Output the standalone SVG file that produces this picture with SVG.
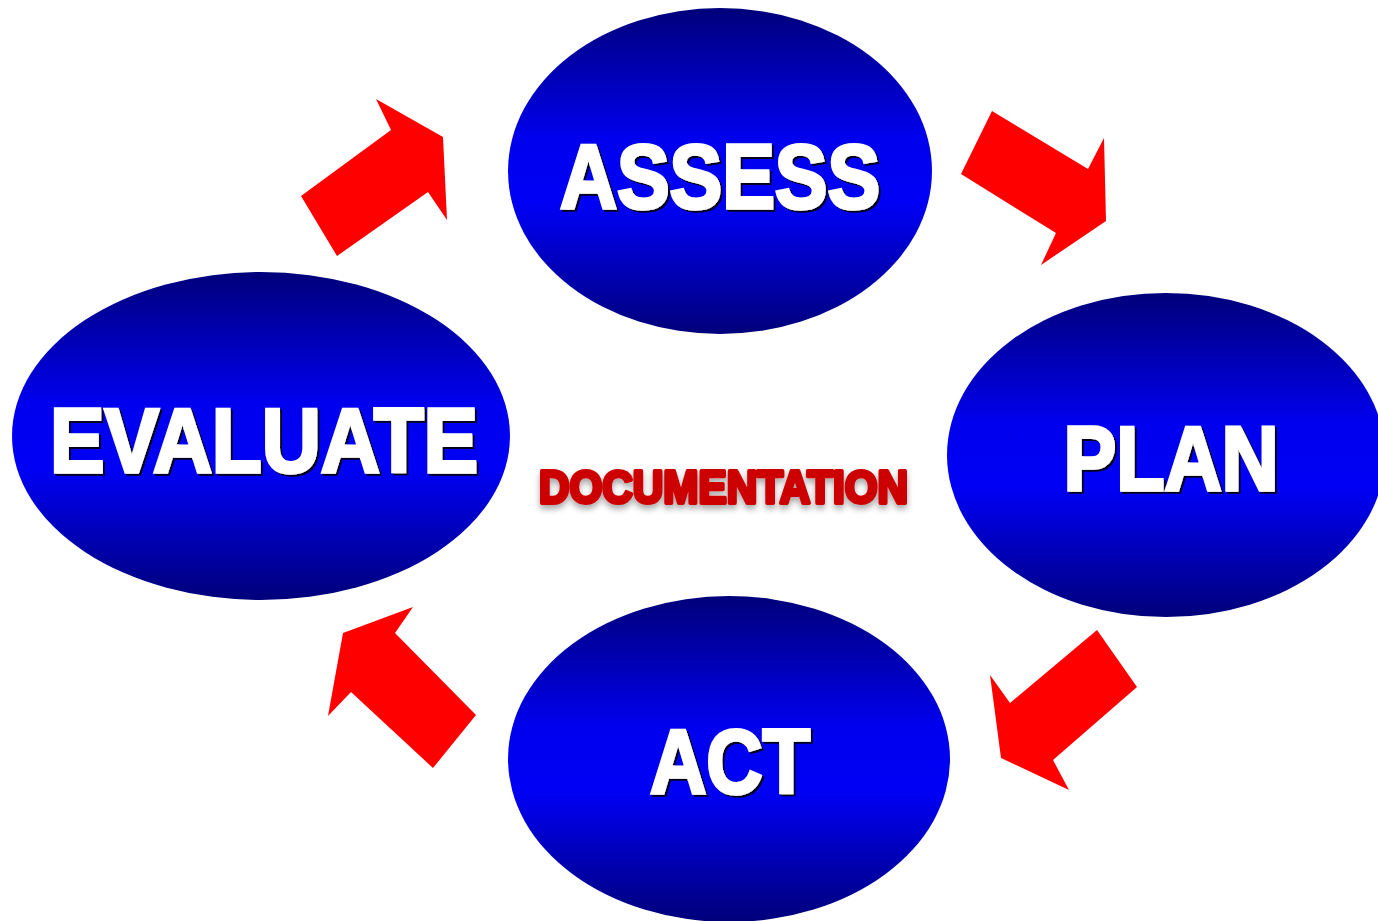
<svg xmlns="http://www.w3.org/2000/svg" width="1378" height="921" viewBox="0 0 1378 921">
<defs>
<linearGradient id="blueGrad" x1="0" y1="0" x2="0" y2="1">
<stop offset="0" stop-color="#00007a"/>
<stop offset="0.4" stop-color="#0000ee"/>
<stop offset="0.6" stop-color="#0000f5"/>
<stop offset="1" stop-color="#00007a"/>
</linearGradient>
<filter id="txtShadow" x="-5%" y="-10%" width="110%" height="130%">
<feDropShadow dx="2" dy="2" stdDeviation="0.6" flood-color="#000020" flood-opacity="1"/>
</filter>
<filter id="docShadow" x="-5%" y="-20%" width="110%" height="160%">
<feDropShadow dx="0" dy="4" stdDeviation="3" flood-color="#000000" flood-opacity="0.35"/>
</filter>
</defs>
<style>
.node ellipse { fill: url(#blueGrad); }
.label { font-family: "Liberation Sans", Arial, sans-serif; font-weight: bold; fill: #ffffff; stroke: #ffffff; stroke-width: 3.5; stroke-linejoin: miter; text-anchor: middle; filter: url(#txtShadow); }
.arrow { fill: #ff0000; }
.doc { font-family: "Liberation Sans", Arial, sans-serif; font-weight: bold; fill: #cc0000; stroke: #cc0000; stroke-width: 4; stroke-linejoin: round; filter: url(#docShadow); }
</style>
<rect width="1378" height="921" fill="#ffffff"/>
<g id="connectors">
<polygon class="arrow" points="301,196 391,130 376,99 443,137 447,220 428,192 337,256"/>
<polygon class="arrow" points="992,111 1088,169 1104,138 1106,221 1041,265 1056,233 961,174"/>
<polygon class="arrow" points="1097,630 1137,687 1053,760 1069,790 1001,758 990,675 1010,703"/>
<polygon class="arrow" points="413,607 395,633 476,715 433,768 351,692 328,716 343,633"/>
</g>
<g id="assess" class="node">
<ellipse cx="720" cy="171" rx="212" ry="163"/>
<text class="label" x="720" y="208" font-size="90" textLength="320" lengthAdjust="spacingAndGlyphs">ASSESS</text>
</g>
<g id="plan" class="node">
<ellipse cx="1166" cy="455" rx="219" ry="162"/>
<text class="label" x="1171" y="490" font-size="90" textLength="215" lengthAdjust="spacingAndGlyphs">PLAN</text>
</g>
<g id="act" class="node">
<ellipse cx="729" cy="759" rx="221" ry="163"/>
<text class="label" x="730" y="793" font-size="90" textLength="160" lengthAdjust="spacingAndGlyphs">ACT</text>
</g>
<g id="evaluate" class="node">
<ellipse cx="261" cy="436" rx="249" ry="164"/>
<text class="label" x="264" y="472" font-size="90" textLength="428" lengthAdjust="spacingAndGlyphs">EVALUATE</text>
</g>
<g id="documentation">
<text class="doc" x="539" y="503" font-size="46" textLength="369" lengthAdjust="spacingAndGlyphs">DOCUMENTATION</text>
</g>
</svg>
